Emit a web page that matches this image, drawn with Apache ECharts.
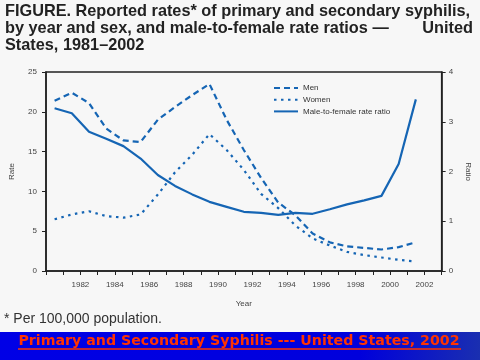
<!DOCTYPE html>
<html><head><meta charset="utf-8">
<script src="https://cdn.jsdelivr.net/npm/echarts@6/dist/echarts.min.js"></script>
<style>html,body{margin:0;padding:0;background:#f7f7f7}#c{width:480px;height:360px}</style>
</head><body><div id="c"></div>
<script>
var years = [1981,1982,1983,1984,1985,1986,1987,1988,1989,1990,1991,1992,1993,1994,1995,1996,1997,1998,1999,2000,2001,2002];
var men   = [21.4,22.4,21.1,17.9,16.4,16.2,19.0,20.6,22.1,23.5,19.0,15.2,11.7,8.6,7.0,4.7,3.6,3.1,2.9,2.7,3.0,3.6];
var women = [6.5,7.1,7.5,6.9,6.7,7.1,9.6,12.4,14.6,17.2,15.2,12.7,9.7,7.9,5.7,4.1,3.2,2.4,2.0,1.7,1.4,1.2];
var ratio = [3.27,3.17,2.80,2.66,2.51,2.26,1.93,1.71,1.54,1.39,1.29,1.19,1.17,1.13,1.17,1.15,1.24,1.34,1.42,1.51,2.15,3.45];
var xTickLabels = ['1982','1984','1986','1988','1990','1992','1994','1996','1998','2000','2002'];
var C = '#1565b4';
function pts(v){ return years.map(function(y,i){ return [y-0.5, v[i]]; }); }
var chart = echarts.init(document.getElementById('c'));
var small = {fontFamily:'Liberation Sans', fontSize:8, color:'#444'};
chart.setOption({
  backgroundColor:'#f7f7f7',
  animation:false,
  grid:{left:41,right:35,top:72,bottom:89,show:true,borderColor:'#222',borderWidth:1.5,backgroundColor:'transparent'},
  legend:{show:true,orient:'vertical',left:268,top:79,right:'auto',bottom:'auto',itemWidth:24,itemHeight:8,itemGap:3.7,
    itemStyle:{color:'rgba(0,0,0,0)',borderWidth:0,opacity:0},
    textStyle:{fontFamily:'Liberation Sans',fontSize:8,color:'#333'},
    data:['Men','Women','Male-to-female rate ratio']},
  xAxis:{type:'value',min:1980,max:2003,interval:1,name:'Year',nameLocation:'middle',nameGap:29,
    nameTextStyle:small,
    axisLine:{lineStyle:{color:'#222',width:1.5}},
    axisTick:{inside:false,length:4,lineStyle:{color:'#222'}},
    splitLine:{show:false},
    axisLabel:Object.assign({margin:10,formatter:function(v){var s=String(v);return xTickLabels.indexOf(s)>=0?s:'';}},small)},
  yAxis:[{type:'value',min:0,max:25,interval:5,name:'Rate',nameLocation:'middle',nameGap:30,nameTextStyle:small,
    axisLine:{show:true,lineStyle:{color:'#222',width:1.5}},axisTick:{show:true,length:4,lineStyle:{color:'#222'}},
    splitLine:{show:false},axisLabel:Object.assign({margin:9},small)},
   {type:'value',min:0,max:4,interval:1,name:'Ratio',nameLocation:'middle',nameGap:22,nameRotate:-90,nameTextStyle:small,
    axisLine:{show:true,lineStyle:{color:'#222',width:1.5}},axisTick:{show:true,length:4,lineStyle:{color:'#222'}},
    splitLine:{show:false},axisLabel:Object.assign({margin:7},small)}],
  series:[
    {name:'Men',type:'line',data:pts(men),symbol:'none',lineStyle:{color:C,width:2.2,type:[6,4]},itemStyle:{color:C}},
    {name:'Women',type:'line',data:pts(women),symbol:'none',lineStyle:{color:C,width:2.2,type:[2.5,4.5]},itemStyle:{color:C}},
    {name:'Male-to-female rate ratio',type:'line',yAxisIndex:1,data:pts(ratio),symbol:'none',lineStyle:{color:C,width:2.2},itemStyle:{color:C}}
  ],
  graphic:[
    {type:'text',left:5,top:4,style:{text:'FIGURE. Reported rates* of primary and secondary syphilis,',font:'bold 16.3px "Liberation Sans"',fill:'#222'}},
    {type:'text',left:5,top:21,style:{text:'by year and sex, and male-to-female rate ratios \u2014',font:'bold 16.3px "Liberation Sans"',fill:'#222'}},
    {type:'text',right:7,top:21,style:{text:'United',font:'bold 16.3px "Liberation Sans"',fill:'#222'}},
    {type:'text',left:5,top:38,style:{text:'States, 1981\u20132002',font:'bold 16.3px "Liberation Sans"',fill:'#222'}},
    {type:'text',left:4,top:312,style:{text:'* Per 100,000 population.',font:'14px "Liberation Sans"',fill:'#333'}},
    {type:'rect',left:0,top:332,shape:{width:480,height:28},style:{fill:new echarts.graphic.LinearGradient(0,0,1,1,[{offset:0,color:'#0000e6'},{offset:0.75,color:'#0000dc'},{offset:1,color:'#1a2fb0'}])}},
    {type:'text',x:239,y:341,style:{text:'Primary and Secondary Syphilis --- United States, 2002',font:'bold 14.2px "DejaVu Sans"',fill:'#ff3300',align:'center',verticalAlign:'middle'}},
    {type:'line',shape:{x1:18,y1:349,x2:461,y2:349},style:{stroke:'#ff3300',lineWidth:1.3}}
  ]
});
</script></body></html>
